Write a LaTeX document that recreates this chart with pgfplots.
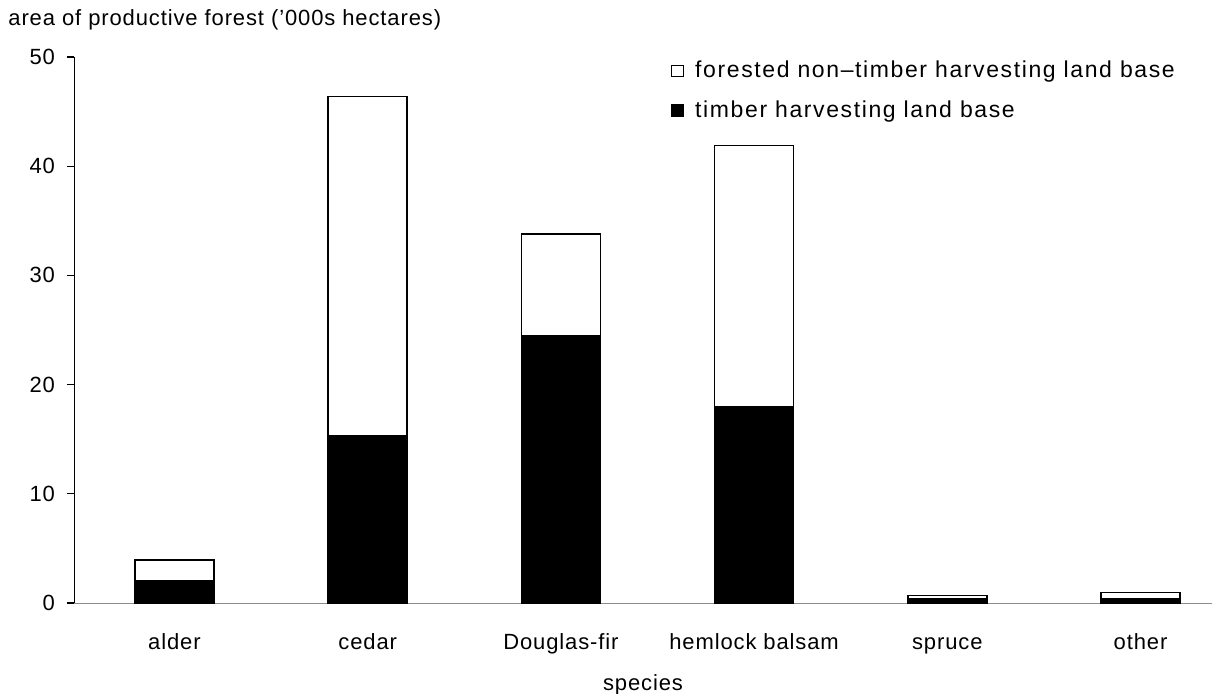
\documentclass[border=0pt]{standalone}
\usepackage{pgfplots}
\pgfplotsset{compat=1.18}
\usepackage{fontspec}
\setmainfont[LetterSpace=4]{Liberation Sans}
\newfontfamily\legfont[LetterSpace=7]{Liberation Sans}
\begin{document}
\begin{tikzpicture}
\begin{axis}[
  scale only axis,
  width=569pt, height=273pt,
  ybar stacked,
  bar width=39.5pt,
  xmin=-0.52, xmax=5.37,
  ymin=0, ymax=50,
  ytick={0,10,20,30,40,50},
  xtick={0,1,2,3,4,5},
  xticklabels={alder,cedar,Douglas-fir,hemlock balsam,spruce,other},
  axis x line*=bottom,
  axis y line*=left,
  x axis line style={draw=gray!90, -},
  y axis line style={draw=black, -},
  tick align=outside,
  ytick style={black, line width=0.6pt},
  major tick length=3.5pt,
  xtick style={draw=none},
  font=\fontsize{11}{12}\selectfont,
  tick label style={font=\fontsize{11}{12}\selectfont},
  /pgf/number format/assume math mode=true,
  yticklabel style={xshift=-2.5pt},
  xticklabel style={yshift=-8pt, text height=8pt, text depth=2.5pt},
  xlabel={species},
  xlabel style={yshift=-3.5pt},
  clip=false,
  reverse legend,
  legend style={draw=none, fill=none, at={(rel axis cs:0.519,1.008)}, anchor=north west,
    row sep=6pt, font=\legfont\fontsize{11.5}{12}\selectfont},
  legend cell align=left,
  legend image code/.code={\draw[#1, line width=0.5pt] (0pt,-2.9pt) rectangle (5.8pt,2.9pt);
    \path (9.5pt,0pt);},
]
\addplot[fill=black, draw=black, line width=0.7pt] coordinates {
  (0,2.05) (1,15.3) (2,24.5) (3,18.0) (4,0.35) (5,0.42)};
\addlegendentry{timber harvesting land base}
\addplot[fill=white, draw=black, line width=0.7pt] coordinates {
  (0,1.9) (1,31.1) (2,9.3) (3,23.9) (4,0.35) (5,0.52)};
\addlegendentry{forested non–timber harvesting land base}
\node[anchor=west, inner sep=0pt, font=\fontsize{11}{12}\selectfont] at (rel axis cs:0,1) [xshift=-33pt, yshift=18.5pt] {area of productive forest ('000s hectares)};
\end{axis}
\pgfresetboundingbox
\path[use as bounding box] ([xshift=-37pt,yshift=-45.5pt]current axis.south west) rectangle ([xshift=9pt,yshift=28.5pt]current axis.north east);
\end{tikzpicture}
\end{document}
